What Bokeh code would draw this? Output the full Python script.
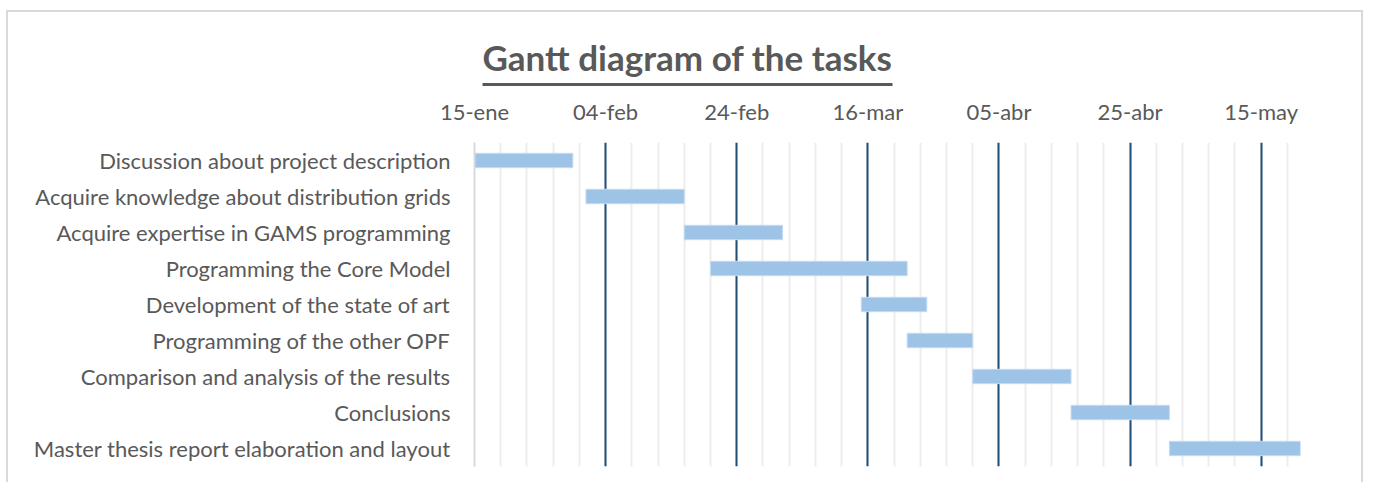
import pandas as pd
from bokeh.plotting import figure
from bokeh.models import (ColumnDataSource, FactorRange, FixedTicker, Range1d,
                          LinearAxis, Title)
from bokeh.embed import file_html
from bokeh.resources import INLINE

# ---- data ----
tasks = [
    "Discussion about project description",
    "Acquire knowledge about distribution grids",
    "Acquire expertise in GAMS programming",
    "Programming the Core Model",
    "Development of the state of art",
    "Programming of the other OPF",
    "Comparison and analysis of the results",
    "Conclusions",
    "Master thesis report elaboration and layout",
]
start_dates = ["2019-01-15", "2019-02-01", "2019-02-16", "2019-02-20", "2019-03-15",
               "2019-03-22", "2019-04-01", "2019-04-16", "2019-05-01"]
durations = [15, 15, 15, 30, 10, 10, 15, 15, 20]  # days

tick_dates = ["2019-01-15", "2019-02-04", "2019-02-24", "2019-03-16",
              "2019-04-05", "2019-04-25", "2019-05-15"]
tick_labels = ["15-ene", "04-feb", "24-feb", "16-mar", "05-abr", "25-abr", "15-may"]
axis_start = "2019-01-15"
axis_end = "2019-05-21"
minor_step_days = 4
title_text = "Gantt diagram of the tasks"

DAY = 86400000


def ms(d):
    return pd.Timestamp(d).value // 10**6


starts = [pd.Timestamp(d) for d in start_dates]
ends = [s + pd.Timedelta(days=n) for s, n in zip(starts, durations)]
src = ColumnDataSource(dict(task=tasks, left=starts, right=ends))

FONT = "Lato"
GREY = "#595959"

W, H = 1357, 472
FRAME_L, FRAME_R, FRAME_T, FRAME_B = 466, 1292, 130, 454

p = figure(width=W, height=H, output_backend="svg", toolbar_location=None,
           x_axis_type="datetime", x_axis_location="above",
           y_range=FactorRange(factors=list(reversed(tasks)), range_padding=0),
           x_range=Range1d(ms(axis_start), ms(axis_end)),
           min_border_left=FRAME_L, min_border_right=W - FRAME_R,
           min_border_top=FRAME_T, min_border_bottom=H - FRAME_B)
p.styles = {"border-top": "2px solid #D9D9D9", "border-left": "2px solid #D9D9D9",
            "border-right": "2px solid #D9D9D9", "margin-left": "6px", "margin-top": "10px"}
p.outline_line_color = None
p.background_fill_color = "white"
p.border_fill_color = "white"

p.hbar(y="task", left="left", right="right", height=0.4, source=src,
       fill_color="#9DC3E6", line_color="#C5DCF1", line_width=1)

major = [ms(d) for d in tick_dates]
minor = list(range(ms(axis_start), ms(axis_end) + 1, minor_step_days * DAY))
p.xaxis.ticker = FixedTicker(ticks=major, minor_ticks=minor)
p.xaxis.major_label_overrides = {m: l for m, l in zip(major, tick_labels)}
p.xaxis.axis_line_color = None
p.xaxis.major_tick_line_color = None
p.xaxis.minor_tick_line_color = None
p.xaxis.major_tick_out = 0
p.xaxis.minor_tick_out = 0
p.xaxis.major_label_text_font = FONT
p.xaxis.major_label_text_font_size = "22px"
p.xaxis.major_label_text_color = GREY
p.xaxis.major_label_standoff = 18

p.yaxis.axis_line_color = "#D9D9D9"
p.yaxis.axis_line_width = 2
p.yaxis.major_tick_line_color = None
p.yaxis.minor_tick_line_color = None
p.yaxis.major_tick_out = 0
p.yaxis.major_label_text_font = FONT
p.yaxis.major_label_text_font_size = "22px"
p.yaxis.major_label_text_color = GREY
p.yaxis.major_label_standoff = 24

p.xgrid.grid_line_color = "#1F4E79"
p.xgrid.grid_line_width = 2
p.xgrid.minor_grid_line_color = "#EDEDED"
p.xgrid.minor_grid_line_width = 2
p.ygrid.grid_line_color = None

# spacer between tick labels and the title underline (one invisible tick)
sp_tick = ms(axis_start) + 60 * DAY
spacer = LinearAxis(ticker=FixedTicker(ticks=[sp_tick]), axis_line_color=None,
                    major_tick_out=10, major_tick_in=0, major_tick_line_color=None,
                    minor_tick_line_color=None, major_label_standoff=0,
                    major_label_overrides={sp_tick: ""},
                    major_label_text_font_size="0px")
p.add_layout(spacer, "above")

# title underline (axis line limited by bounds, in pixels from frame left)
px_per_day = (FRAME_R - FRAME_L) / ((ms(axis_end) - ms(axis_start)) / DAY)
ul_left_px, ul_right_px = 8, 418
underline = LinearAxis(ticker=FixedTicker(ticks=[]), axis_line_color=GREY, axis_line_width=3,
                       major_tick_out=0, major_tick_in=0, major_tick_line_color=None,
                       minor_tick_line_color=None, major_label_standoff=0,
                       bounds=(ms(axis_start) + ul_left_px / px_per_day * DAY,
                               ms(axis_start) + ul_right_px / px_per_day * DAY))
p.add_layout(underline, "above")

title = Title(text=title_text, align="left", offset=8, standoff=13,
              text_font=FONT, text_font_size="35px", text_font_style="bold",
              text_color=GREY)
p.add_layout(title, "above")

open("out.html", "w").write(file_html(p, INLINE))
